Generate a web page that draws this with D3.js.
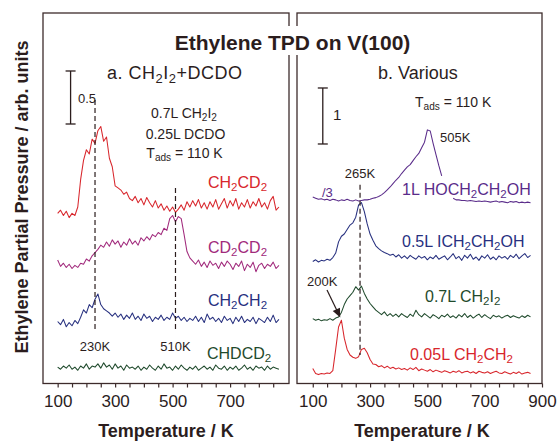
<!DOCTYPE html>
<html>
<head>
<meta charset="utf-8">
<script src="https://cdn.jsdelivr.net/npm/d3@7"></script>
<style>
  body { margin: 0; background: #fff; }
  svg { display: block; font-family: "Liberation Sans", Arial, Helvetica, sans-serif; }
</style>
</head>
<body>
<svg width="560" height="442"></svg>
<script>
// temperature grid (K), 10 K steps
const tempsA = d3.range(100, 871, 10);   // panel a: 100..870
const tempsB = d3.range(100, 861, 10);   // panel b: 100..860

// panel a. CH2I2 + DCDO  (arb. units, offset traces)
const ch2cd2A = [
  1.60, 1.63, 1.58, 1.62, 1.56, 1.60, 1.58, 1.66, 1.92, 2.10,
  2.20, 2.16, 2.30, 2.26, 2.38, 2.42, 2.28, 2.32, 2.12, 2.04,
  1.86, 1.84, 1.82, 1.78, 1.80, 1.74, 1.72, 1.76, 1.70, 1.74,
  1.68, 1.75, 1.70, 1.66, 1.72, 1.65, 1.69, 1.63, 1.67, 1.62,
  1.66, 1.61, 1.64, 1.68, 1.63, 1.71, 1.66, 1.72, 1.67, 1.73,
  1.65, 1.70, 1.64, 1.71, 1.66, 1.73, 1.64, 1.69, 1.74, 1.65,
  1.72, 1.67, 1.74, 1.64, 1.70, 1.66, 1.73, 1.65, 1.71, 1.67,
  1.74, 1.66, 1.70, 1.64, 1.72, 1.76, 1.63, 1.66];
const cd2cd2A = [
  1.16, 1.10, 1.13, 1.09, 1.12, 1.08, 1.11, 1.09, 1.13, 1.12,
  1.17, 1.15, 1.20, 1.23, 1.26, 1.30, 1.28, 1.33, 1.29, 1.35,
  1.31, 1.34, 1.28, 1.33, 1.30, 1.36, 1.31, 1.34, 1.30, 1.37,
  1.34, 1.38, 1.35, 1.40, 1.38, 1.42, 1.40, 1.46, 1.44, 1.55,
  1.58, 1.52, 1.57, 1.55, 1.40, 1.24, 1.18, 1.15, 1.12, 1.16,
  1.10, 1.14, 1.09, 1.15, 1.11, 1.13, 1.08, 1.14, 1.10, 1.15,
  1.12, 1.07, 1.13, 1.10, 1.15, 1.06, 1.12, 1.09, 1.14, 1.05,
  1.11, 1.13, 1.08, 1.12, 1.10, 1.14, 1.08, 1.11];
const ch2ch2A = [
  0.58, 0.55, 0.60, 0.53, 0.57, 0.54, 0.59, 0.56, 0.62, 0.69,
  0.66, 0.74, 0.71, 0.79, 0.84, 0.74, 0.70, 0.68, 0.66, 0.63,
  0.66, 0.62, 0.65, 0.60, 0.64, 0.61, 0.66, 0.60, 0.63, 0.59,
  0.65, 0.61, 0.63, 0.58, 0.62, 0.60, 0.64, 0.59, 0.62, 0.60,
  0.66, 0.61, 0.63, 0.59, 0.62, 0.58, 0.61, 0.59, 0.63, 0.58,
  0.62, 0.57, 0.65, 0.60, 0.62, 0.58, 0.61, 0.57, 0.63, 0.59,
  0.61, 0.56, 0.62, 0.58, 0.63, 0.57, 0.60, 0.58, 0.62, 0.56,
  0.61, 0.59, 0.57, 0.62, 0.58, 0.64, 0.57, 0.60];
const chdcd2A = [
  0.15, 0.13, 0.16, 0.14, 0.17, 0.13, 0.15, 0.12, 0.16, 0.14,
  0.18, 0.13, 0.16, 0.15, 0.18, 0.14, 0.19, 0.15, 0.17, 0.13,
  0.18, 0.14, 0.16, 0.12, 0.17, 0.14, 0.15, 0.13, 0.16, 0.12,
  0.15, 0.13, 0.17, 0.14, 0.12, 0.16, 0.13, 0.18, 0.14, 0.15,
  0.12, 0.16, 0.13, 0.17, 0.14, 0.12, 0.15, 0.13, 0.16, 0.12,
  0.14, 0.16, 0.13, 0.15, 0.12, 0.17, 0.14, 0.13, 0.16, 0.12,
  0.15, 0.13, 0.16, 0.12, 0.14, 0.17, 0.13, 0.15, 0.12, 0.16,
  0.14, 0.15, 0.12, 0.16, 0.13, 0.15, 0.14, 0.13];

// panel b. Various  (null = hidden behind label)
const hoch2ch2ohB = [
  3.32, 3.30, 3.28, 3.29, 3.27, 3.28, 3.26, 3.28, 3.27, 3.25,
  3.27, 3.26, 3.28, 3.26, 3.25, 3.27, 3.25, 3.26, 3.27, 3.27,
  3.28, 3.30, 3.31, 3.33, 3.36, 3.40, 3.45, 3.50, 3.56, 3.62,
  3.67, 3.74, 3.80, 3.86, 3.90, 3.97, 4.04, 4.10, 4.20, 4.30,
  4.52, 4.50, 4.28, 4.08, 3.88, 3.70, null, null, null, 3.30,
  3.27, 3.27, 3.26, 3.26, 3.25, 3.26, 3.25, 3.24, 3.25, 3.24,
  3.25, 3.24, 3.23, 3.24, 3.25, 3.23, 3.24, 3.23, 3.22, 3.24,
  3.23, 3.24, 3.22, 3.23, 3.22, 3.23, 3.22];
const ich2ch2ohB = [
  2.17, 2.20, 2.16, 2.19, 2.18, 2.21, 2.19, 2.24, 2.32, 2.52,
  2.62, 2.66, 2.74, 2.82, 2.86, 2.96, 3.18, 3.22, 3.06, 2.84,
  2.66, 2.55, 2.45, 2.40, 2.36, 2.33, 2.31, 2.28, 2.30, 2.25,
  2.29, 2.23, 2.27, 2.22, 2.28, 2.24, 2.21, 2.27, 2.23, 2.26,
  2.20, 2.25, 2.22, 2.28, 2.21, 2.24, 2.27, 2.20, 2.25, 2.31,
  2.22, 2.26, 2.19, 2.28, 2.23, 2.30, 2.21, 2.25, 2.19, 2.27,
  2.23, 2.29, 2.21, 2.25, 2.20, 2.27, 2.23, 2.26, 2.21, 2.28,
  2.24, 2.30, 2.22, 2.27, 2.31, 2.24, 2.28];
const ch2i2B = [
  1.15, 1.12, 1.14, 1.11, 1.13, 1.12, 1.15, 1.12, 1.16, 1.18,
  1.26, 1.40, 1.50, 1.56, 1.62, 1.72, 1.66, 1.73, 1.60, 1.50,
  1.42, 1.36, 1.30, 1.26, 1.22, 1.27, 1.20, 1.24, 1.19, 1.23,
  1.18, 1.24, 1.20, 1.17, 1.23, 1.19, 1.30, 1.22, 1.18, 1.24,
  1.20, 1.16, 1.22, 1.19, 1.15, 1.21, 1.18, 1.23, 1.17, 1.20,
  1.16, 1.22, 1.18, 1.24, 1.17, 1.21, 1.16, 1.20, 1.23, 1.17,
  1.22, 1.18, 1.15, 1.21, 1.18, 1.20, 1.16, 1.19, 1.21, 1.17,
  1.20, 1.18, 1.16, 1.20, 1.17, 1.21, 1.18];
const ch2ch2B = [
  0.26, 0.17, 0.15, 0.17, 0.16, 0.18, 0.17, 0.22, 0.60, 1.00,
  1.12, 0.80, 0.60, 0.50, 0.46, 0.44, 0.47, 0.60, 0.62, 0.54,
  0.42, 0.34, 0.33, 0.29, 0.31, 0.27, 0.30, 0.26, 0.28, 0.25,
  0.27, 0.24, 0.26, 0.23, 0.27, 0.24, 0.28, 0.22, 0.25, 0.23,
  0.21, 0.24, 0.20, 0.23, 0.21, 0.19, 0.22, 0.20, 0.18, 0.21,
  0.19, 0.22, 0.18, 0.20, 0.21, 0.18, 0.20, 0.17, 0.21, 0.19,
  0.18, 0.20, 0.17, 0.19, 0.21, 0.18, 0.17, 0.20, 0.18, 0.16,
  0.19, 0.17, 0.20, 0.16, 0.18, 0.19, 0.17];

const tickTemps = [100, 300, 500, 700, 900];

const red = "#d8262c", magenta = "#a12a7c", navy = "#27307f",
      green = "#1f4a2c", purple = "#5a2c8a", ink = "#2b1d1d", frame = "#3d2b2b";

const svg = d3.select("svg");
const frameBottom = 383.5, frameTop = 13;

// scales: one per panel
const xA = d3.scaleLinear().domain([49, 905]).range([43, 289]);
const xB = d3.scaleLinear().domain([45, 900]).range([297, 542]);
const yA = d3.scaleLinear().domain([0, 3.49]).range([383, 13]);   // 0.5 unit = 53 px
const yB = d3.scaleLinear().domain([0, 6.607]).range([383, 13]);  // 1 unit = 56 px

// write "CH{2}I{2}" with subscripts
function richText(sel, str) {
  str.split(/(\{[^}]*\})/).forEach(part => {
    if (!part) return;
    if (part[0] == "{") {
      sel.append("tspan").attr("font-size", "72%").attr("baseline-shift", "-28%")
        .text(part.slice(1, -1));
    } else {
      sel.append("tspan").text(part);
    }
  });
}

function label(x, y, str, opt) {
  opt = opt || {};
  let t = svg.append("text")
    .attr("x", x).attr("y", y)
    .attr("font-size", opt.size || 14)
    .attr("font-weight", opt.bold ? "bold" : null)
    .attr("text-anchor", opt.anchor || "start")
    .attr("fill", opt.color || ink);
  if (opt.len) t.attr("textLength", opt.len);
  richText(t, str);
  return t;
}

function drawPanel(x, y, temps, series, tickList) {
  // frame
  svg.append("rect")
    .attr("x", x.range()[0]).attr("y", frameTop)
    .attr("width", x.range()[1] - x.range()[0]).attr("height", frameBottom - frameTop)
    .attr("fill", "none").attr("stroke", frame).attr("stroke-width", 1.3);

  // x axis with ticks every 50 K, labels every 200 K
  let axis = d3.axisBottom(x)
    .tickValues(tickList)
    .tickSize(4)
    .tickFormat(d => tickTemps.includes(d) ? d : "");
  let g = svg.append("g")
    .attr("transform", `translate(0, ${frameBottom})`)
    .call(axis);
  g.select(".domain").remove();
  g.selectAll("line").attr("stroke", frame).attr("stroke-width", 1.2);
  g.selectAll("text")
    .attr("y", 23).attr("dy", null)
    .attr("font-size", 17).attr("fill", ink)
    .attr("font-family", "Liberation Sans, Arial, sans-serif");

  // traces
  let line = d3.line()
    .defined(d => d[1] != null)
    .x(d => x(d[0]))
    .y(d => y(d[1]));
  series.forEach(s => {
    svg.append("path")
      .datum(temps.map((t, i) => [t, s.values[i]]))
      .attr("d", line)
      .attr("fill", "none")
      .attr("stroke", s.color)
      .attr("stroke-width", 1.05)
      .attr("stroke-linejoin", "round");
  });
}

function dashed(x, y, temp, y0, y1) {
  svg.append("line")
    .attr("x1", x(temp)).attr("x2", x(temp))
    .attr("y1", y(y0)).attr("y2", y(y1))
    .attr("stroke", ink).attr("stroke-width", 1.2)
    .attr("stroke-dasharray", "5,3");
}

function scaleBar(x, y, temp, v0, v1) {
  let g = svg.append("g").attr("stroke", ink).attr("stroke-width", 1.3);
  g.append("line").attr("x1", x(temp)).attr("x2", x(temp)).attr("y1", y(v0)).attr("y2", y(v1));
  [v0, v1].forEach(v => g.append("line")
    .attr("x1", x(temp) - 5).attr("x2", x(temp) + 5).attr("y1", y(v)).attr("y2", y(v)));
}

// panel a
drawPanel(xA, yA, tempsA, [
  { values: ch2cd2A, color: red },
  { values: cd2cd2A, color: magenta },
  { values: ch2ch2A, color: navy },
  { values: chdcd2A, color: green }
], d3.range(100, 851, 50));

// panel b
drawPanel(xB, yB, tempsB, [
  { values: hoch2ch2ohB, color: purple },
  { values: ich2ch2ohB, color: navy },
  { values: ch2i2B, color: green },
  { values: ch2ch2B, color: red }
], d3.range(100, 901, 50));

// peak markers
dashed(xA, yA, 230, 2.67, 0.50);
dashed(xA, yA, 510, 1.84, 0.50);
dashed(xB, yB, 265, 3.54, 0.50);

// intensity scale bars
scaleBar(xA, yA, 145, 2.943, 2.443);
scaleBar(xB, yB, 135, 5.268, 4.268);

// title, breaking the two inner frame lines
svg.append("rect").attr("x", 282).attr("y", 26).attr("width", 22).attr("height", 29).attr("fill", "#fff");
label(292.5, 50, "Ethylene TPD on V(100)", { size: 21, bold: true, anchor: "middle" });

// axis titles
svg.append("text")
  .attr("transform", "translate(28, 197) rotate(-90)")
  .attr("text-anchor", "middle").attr("font-size", 18).attr("font-weight", "bold")
  .attr("fill", ink)
  .text("Ethylene Partial Pressure / arb. units");
label(166, 437, "Temperature / K", { size: 18, bold: true, anchor: "middle" });
label(422, 437, "Temperature / K", { size: 18, bold: true, anchor: "middle" });

// panel a annotations
label(107, 79, "a. CH{2}I{2}+DCDO", { size: 18, len: 135 });
label(78, 103, "0.5", { size: 13 });
label(184, 118, "0.7L CH{2}I{2}", { size: 14, anchor: "middle" });
label(185.5, 139, "0.25L DCDO", { size: 14, anchor: "middle" });
label(184.5, 158, "T{ads} = 110 K", { size: 14, anchor: "middle" });
label(208, 188, "CH{2}CD{2}", { size: 16, color: red });
label(208, 253, "CD{2}CD{2}", { size: 16, color: magenta });
label(208, 306, "CH{2}CH{2}", { size: 16, color: navy });
label(207, 359, "CHDCD{2}", { size: 16, color: green });
label(xA(230), 351, "230K", { size: 13, anchor: "middle" });
label(xA(510), 351, "510K", { size: 13, anchor: "middle" });

// panel b annotations
label(378, 79, "b. Various", { size: 18 });
label(415, 107, "T{ads} = 110 K", { size: 14 });
label(333, 120, "1", { size: 15 });
label(440, 142, "505K", { size: 13 });
label(xB(265), 178, "265K", { size: 13, anchor: "middle" });
label(322, 197, "/3", { size: 13, color: purple });
label(402, 195, "1L HOCH{2}CH{2}OH", { size: 16, color: purple });
label(402, 247, "0.5L ICH{2}CH{2}OH", { size: 16, color: navy });
label(425, 302, "0.7L CH{2}I{2}", { size: 16, color: green });
label(410, 360, "0.05L CH{2}CH{2}", { size: 16, color: red });
label(307, 286, "200K", { size: 13 });

// arrow to the 200 K peak
const tipX = xB(196), tipY = yB(1.17);
const startX = 327, startY = 290;
const ang = Math.atan2(tipY - startY, tipX - startX);
svg.append("line")
  .attr("x1", startX).attr("y1", startY)
  .attr("x2", tipX - 6 * Math.cos(ang)).attr("y2", tipY - 6 * Math.sin(ang))
  .attr("stroke", ink).attr("stroke-width", 1.2);
svg.append("path")
  .attr("d", d3.line()([
    [tipX, tipY],
    [tipX - 9 * Math.cos(ang) + 4 * Math.sin(ang), tipY - 9 * Math.sin(ang) - 4 * Math.cos(ang)],
    [tipX - 9 * Math.cos(ang) - 4 * Math.sin(ang), tipY - 9 * Math.sin(ang) + 4 * Math.cos(ang)]
  ]) + "Z")
  .attr("fill", ink);
</script>
</body>
</html>
